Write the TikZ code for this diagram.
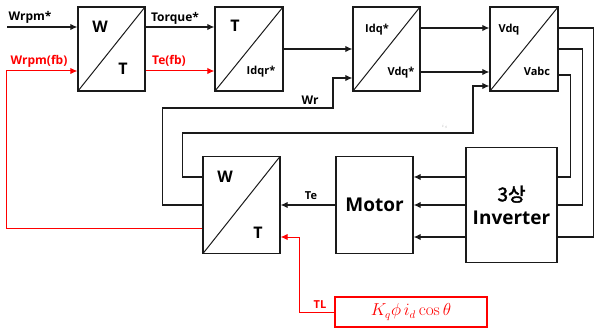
\documentclass[tikz,border=0pt]{standalone}
\usepackage[no-math]{fontspec}
\setmainfont{Open Sans}
\newfontfamily\krfont{Noto Sans CJK KR}[AutoFakeBold=2]
\usetikzlibrary{arrows.meta,calc}
\definecolor{ink}{HTML}{1A1A1A}
\definecolor{fbred}{HTML}{FF0000}
\tikzset{
  blk/.style={draw=ink,line width=1.4pt,minimum width=67pt,minimum height=84pt,inner sep=0pt},
  splitblk/.style={blk,path picture={\draw[ink,line width=1pt]
      (path picture bounding box.south west) -- (path picture bounding box.north east);}},
  sig/.style={draw=ink,line width=1.2pt,-{Latex[length=7pt,width=6.5pt]}},
  wire/.style={draw=ink,line width=1.2pt},
  fbsig/.style={draw=fbred,line width=1pt,-{Latex[length=7pt,width=6.5pt]}},
  lbl/.style={font=\fontsize{12}{14}\selectfont\bfseries,inner sep=0pt,anchor=base},
  big/.style={font=\fontsize{16}{18}\selectfont\bfseries,inner sep=0pt,anchor=base},
  small/.style={font=\fontsize{11}{13}\selectfont\bfseries,inner sep=0pt,anchor=base},
}

\begin{document}
\begin{tikzpicture}[x=1pt,y=-1pt]
  \useasboundingbox (0,0) rectangle (594,331);
  % control chain
  \node[splitblk] (wtref) at (111.5,49) {};
  \node[splitblk,minimum width=68pt] (tiq) at (249,49) {};
  \node[splitblk] (idq) at (386.5,49) {};
  \node[splitblk,minimum width=68pt] (vabc) at (524,49) {};
  \node[big] (wtrefw) at (100,33) {W};
  \node[big] (wtreft) at (123,75) {T};
  \node[big] (tiqt) at (235,32) {T};
  \node[small] (tiqi) at (261,75) {Idqr*};
  \node[small] (idqi) at (377,33) {Idq*};
  \node[small] (idqv) at (401,76) {Vdq*};
  \node[small] (vabcv) at (509,33) {Vdq};
  \node[small] (vabco) at (537,76) {Vabc};

  % plant row
  \node[splitblk,minimum width=77pt,minimum height=97pt] (wtfb) at (241.5,205) {};
  \node[big] (wtfbw) at (225,183) {W};
  \node[big] (wtfbt) at (258,238) {T};
  \node[blk,minimum width=77pt,minimum height=97pt,
        font=\fontsize{19}{22}\selectfont\bfseries] (motor) at (374.5,205) {Motor};
  \node[blk,minimum width=91pt,minimum height=115pt,align=center,
        font=\fontsize{19}{23}\selectfont\bfseries] (inv) at (511.5,205) {{\krfont 3상}\\Inverter};
  \node[draw=fbred,line width=1.2pt,minimum width=152pt,minimum height=30pt,text=fbred,
        font=\fontsize{16}{19}\selectfont] (load) at (411,312) {$K_q\phi\, i_d\cos\theta$};

  % signal labels
  \coordinate (wref) at (7,27);
  \node[lbl] (lwref) at (30,21) {Wrpm*};
  \node[lbl] (ltq) at (175,22) {Torque*};
  \node[lbl,text=fbred] (lwfb) at (39,65) {Wrpm(fb)};
  \node[lbl,text=fbred] (ltefb) at (169,65) {Te(fb)};
  \node[lbl] (lwr) at (310,105) {Wr};
  \node[small] (lte) at (311,200) {Te};
  \node[small,text=fbred] (ltl) at (320,308) {TL};
  \node[text=black!25,font=\tiny,inner sep=0pt] (lis) at (445,126) {$i_s$};

  % forward path
  \draw[sig] (wref) -- (wref -| wtref.west);
  \draw[sig] ([yshift=22pt]wtref.east) -- ([yshift=22pt]tiq.west);
  \draw[fbsig] ([yshift=-22pt]wtref.east) -- ([yshift=-22pt]tiq.west);
  \draw[sig] (tiq.east) -- (idq.west);
  \draw[sig] ([yshift=21pt]idq.east) -- ([yshift=21pt]vabc.west);
  \draw[sig] ([yshift=-23pt]idq.east) -- ([yshift=-23pt]vabc.west);

  % feedback loops
  \draw[sig] (wtfb.west) -- ++(-40,0) |- (333,108) |- ([yshift=-29pt]idq.west);
  \draw[sig] ([yshift=28pt]wtfb.west) -- ++(-20,0) |- (473,133) |- ([yshift=-37pt]vabc.west);
  \draw[fbsig] ([yshift=-23pt]wtfb.west) -- ++(-196,0) |- ([yshift=-22pt]wtref.west);
  \draw[sig] (motor.west) -- (wtfb.east);
  \foreach \dy in {28,0,-32}
    \draw[sig] ([yshift=\dy pt]inv.west) -- ([yshift=\dy pt]motor.east);

  % voltage to inverter
  \draw[wire] ([yshift=21pt]vabc.east) -- ++(34.5,0) |- ([yshift=-32pt]inv.east);
  \draw[wire] (vabc.east) -- ++(24,0) |- (inv.east);
  \draw[wire] ([yshift=-26pt]vabc.east) -- ++(12,0) |- ([yshift=28pt]inv.east);

  % load torque
  \draw[fbsig] (load.west) -- ++(-35,0) |- ([yshift=-32pt]wtfb.east);
\end{tikzpicture}
\end{document}
